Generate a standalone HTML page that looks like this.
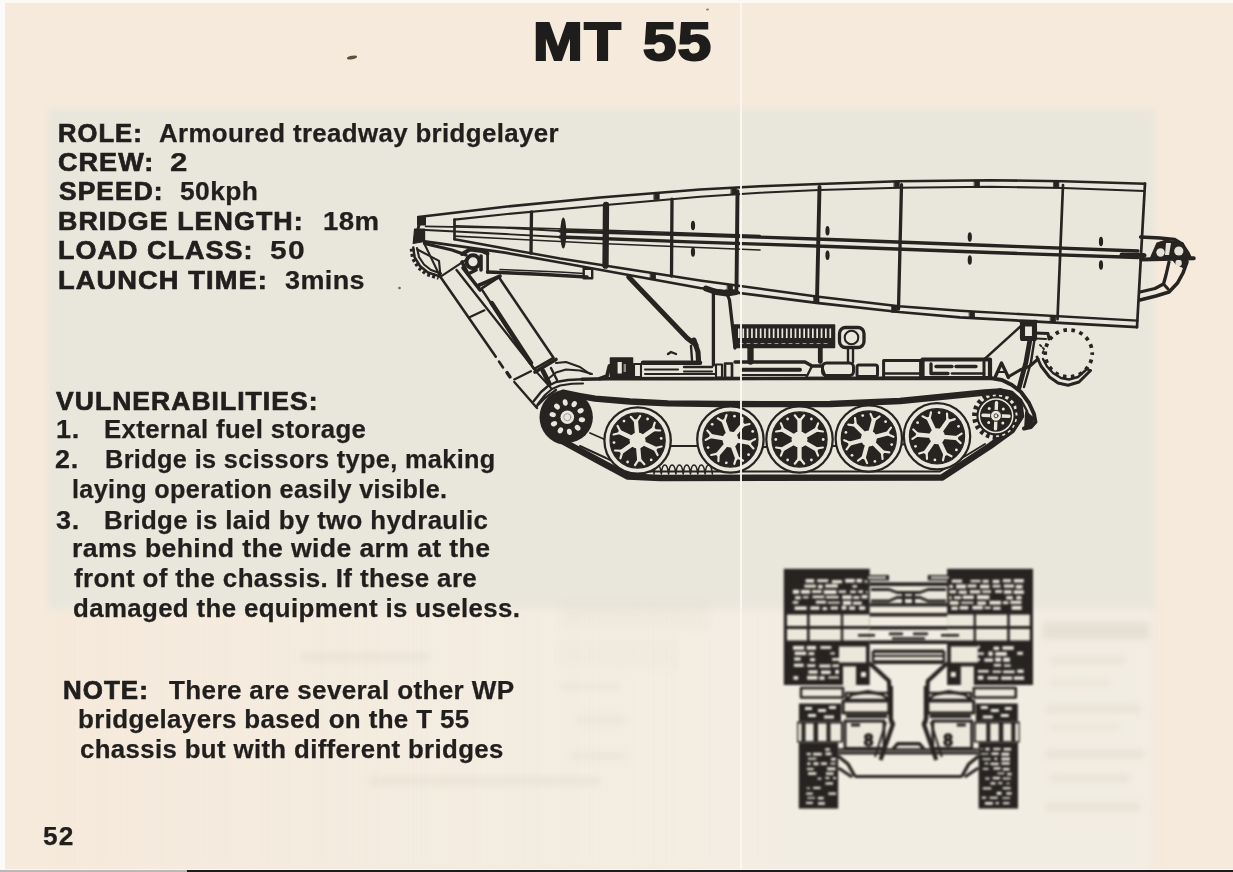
<!DOCTYPE html>
<html><head><meta charset="utf-8"><title>MT 55</title><style>
html,body{margin:0;padding:0}
body{width:1233px;height:872px;overflow:hidden;position:relative;background:#f6eadc;font-family:"Liberation Sans",sans-serif;color:#211f1e}
.t{-webkit-text-stroke:0.25px #262321;position:absolute;transform-origin:0 0;white-space:pre;font-size:25px;line-height:30px;height:30px;font-weight:700}
.t.b{-webkit-text-stroke:0.7px #211f1e}
#gray{position:absolute;left:48px;top:109px;width:1107px;height:500px;background:#e9e6dc;filter:blur(3px)}
#title{position:absolute;left:0;top:0;font-size:53px;font-weight:700;line-height:60px;white-space:pre;-webkit-text-stroke:2.2px #1f1d1c;color:#1f1d1c;transform-origin:0 0}
svg{position:absolute;left:0;top:0}
#txt{position:absolute;left:0;top:0;width:1233px;height:872px;filter:blur(0.4px)}
</style></head>
<body>
<div style="position:absolute;left:48px;top:606px;width:1105px;height:266px;background:linear-gradient(to right,rgba(242,237,227,0) 0,rgba(242,237,227,.55) 30%,rgba(242,237,227,.9) 65%,rgba(242,237,227,.9) 100%);filter:blur(4px)"></div>
<div id="gray"></div>
<div style="position:absolute;left:1042px;top:622px;width:108px;height:17px;background:#ddd6c8;filter:blur(3px);opacity:0.55"></div><div style="position:absolute;left:1050px;top:657px;width:75px;height:7px;background:#ddd6c8;filter:blur(3px);opacity:0.45"></div><div style="position:absolute;left:1050px;top:680px;width:60px;height:6px;background:#ddd6c8;filter:blur(3px);opacity:0.4"></div><div style="position:absolute;left:1045px;top:705px;width:95px;height:8px;background:#ddd6c8;filter:blur(3px);opacity:0.45"></div><div style="position:absolute;left:1050px;top:724px;width:70px;height:6px;background:#ddd6c8;filter:blur(3px);opacity:0.4"></div><div style="position:absolute;left:1045px;top:750px;width:100px;height:8px;background:#ddd6c8;filter:blur(3px);opacity:0.45"></div><div style="position:absolute;left:1050px;top:774px;width:80px;height:8px;background:#ddd6c8;filter:blur(3px);opacity:0.4"></div><div style="position:absolute;left:1045px;top:803px;width:95px;height:8px;background:#ddd6c8;filter:blur(3px);opacity:0.45"></div><div style="position:absolute;left:300px;top:653px;width:130px;height:8px;background:#ddd6c8;filter:blur(3px);opacity:0.35"></div><div style="position:absolute;left:560px;top:683px;width:60px;height:7px;background:#ddd6c8;filter:blur(3px);opacity:0.3"></div><div style="position:absolute;left:575px;top:716px;width:50px;height:8px;background:#ddd6c8;filter:blur(3px);opacity:0.3"></div><div style="position:absolute;left:570px;top:752px;width:55px;height:8px;background:#ddd6c8;filter:blur(3px);opacity:0.3"></div><div style="position:absolute;left:370px;top:777px;width:230px;height:9px;background:#ddd6c8;filter:blur(3px);opacity:0.35"></div><div style="position:absolute;left:560px;top:600px;width:150px;height:30px;background:#ddd6c8;filter:blur(3px);opacity:0.14"></div><div style="position:absolute;left:560px;top:640px;width:120px;height:30px;background:#ddd6c8;filter:blur(3px);opacity:0.1"></div>
<div style="position:absolute;left:0;top:0;width:5px;height:872px;background:#fdfbfa"></div>
<div style="position:absolute;left:0;top:0;width:1233px;height:3px;background:#fdfaf6"></div>
<div style="position:absolute;left:0;top:868.6px;width:1233px;height:1.6px;background:#fbf6ee"></div>
<div style="position:absolute;left:0;top:870px;width:1233px;height:2px;background:#b9b8b6"></div>
<div style="position:absolute;left:187px;top:870px;width:1046px;height:2px;background:#1c1c1e"></div>
<svg width="1233" height="872" viewBox="0 0 1233 872" style="filter:blur(0.45px)" stroke-linecap="round" stroke-linejoin="round"><path d="M418.4,217.0 L505.0,206.7 L600.0,197.6 L700.0,189.5 L760.0,186.3 L819.0,184.0 L899.0,181.2 L990.0,180.2 L1063.0,181.2 L1145.0,183.7" fill="none" stroke="#262321" stroke-width="2.55" />
<path d="M454.5,219.6 L505.0,214.2 L600.0,205.5 L700.0,196.8 L760.0,192.8 L819.0,190.0 L899.0,187.7 L990.0,186.7 L1063.0,188.0 L1144.0,191.0" fill="none" stroke="#262321" stroke-width="2.10" />
<path d="M425.6,226.3 L505.0,227.9 L560.0,231.0" fill="none" stroke="#262321" stroke-width="1.80" />
<path d="M425.6,230.0 L505.0,234.0 L560.0,237.0" fill="none" stroke="#262321" stroke-width="1.80" />
<path d="M560.0,231.0 L690.0,234.8 L830.0,239.5 L990.0,245.5 L1138.0,251.0" fill="none" stroke="#262321" stroke-width="3.30" />
<path d="M560.0,237.0 L690.0,241.8 L830.0,246.5 L990.0,252.5 L1138.0,257.5" fill="none" stroke="#262321" stroke-width="3.30" />
<path d="M454.5,239.2 L505.0,248.5 L560.0,258.5 L700.0,280.5 L816.5,296.5 L899.0,306.3 L960.0,310.8 L1137.5,320.6" fill="none" stroke="#262321" stroke-width="2.40" />
<path d="M424.6,241.3 L505.0,252.6 L560.0,262.5 L700.0,288.0 L816.5,302.8 L899.0,312.0 L960.0,317.3 L1137.0,327.2" fill="none" stroke="#262321" stroke-width="2.70" />
<path d="M454.5,225.8 L600.0,230.0 L760.0,235.5" fill="none" stroke="#262321" stroke-width="1.65" />
<path d="M454.5,236.1 L600.0,243.5 L760.0,250.0" fill="none" stroke="#262321" stroke-width="1.65" />
<line x1="454.5" y1="219.6" x2="454.5" y2="239.2" stroke="#262321" stroke-width="2.70" />
<path d="M1145.0,183.7 L1141.0,255.0 L1137.0,327.2" fill="none" stroke="#262321" stroke-width="2.70" />
<line x1="531.5" y1="211.8" x2="531.0" y2="253.2" stroke="#262321" stroke-width="3.30" />
<line x1="606.0" y1="205.0" x2="605.5" y2="265.6" stroke="#262321" stroke-width="6.30" />
<line x1="672.0" y1="199.2" x2="671.5" y2="276.0" stroke="#262321" stroke-width="3.30" />
<line x1="737.5" y1="191.3" x2="736.5" y2="288.5" stroke="#262321" stroke-width="3.90" />
<line x1="819.5" y1="187.0" x2="817.0" y2="299.6" stroke="#262321" stroke-width="3.90" />
<line x1="901.5" y1="184.7" x2="898.5" y2="309.2" stroke="#262321" stroke-width="3.30" />
<line x1="1063.0" y1="185.0" x2="1057.5" y2="319.2" stroke="#262321" stroke-width="2.70" />
<rect x="654.2" y="193.0" width="5.0" height="6.5" rx="0" fill="#262321" stroke="#262321" stroke-width="0.75" />
<rect x="731.3" y="187.7" width="5.0" height="6.5" rx="0" fill="#262321" stroke="#262321" stroke-width="0.75" />
<rect x="894.3" y="181.3" width="5.0" height="6.5" rx="0" fill="#262321" stroke="#262321" stroke-width="0.75" />
<rect x="974.5" y="180.3" width="5.0" height="6.5" rx="0" fill="#262321" stroke="#262321" stroke-width="0.75" />
<rect x="1053.8" y="181.1" width="5.0" height="6.5" rx="0" fill="#262321" stroke="#262321" stroke-width="0.75" />
<rect x="650.5" y="273.1" width="5.0" height="6.5" rx="0" fill="#262321" stroke="#262321" stroke-width="0.75" />
<rect x="727.5" y="284.6" width="5.0" height="6.5" rx="0" fill="#262321" stroke="#262321" stroke-width="0.75" />
<rect x="814.0" y="296.5" width="5.0" height="6.5" rx="0" fill="#262321" stroke="#262321" stroke-width="0.75" />
<rect x="891.9" y="305.8" width="5.0" height="6.5" rx="0" fill="#262321" stroke="#262321" stroke-width="0.75" />
<rect x="969.5" y="311.5" width="5.0" height="6.5" rx="0" fill="#262321" stroke="#262321" stroke-width="0.75" />
<rect x="1050.5" y="315.9" width="5.0" height="6.5" rx="0" fill="#262321" stroke="#262321" stroke-width="0.75" />
<ellipse cx="693" cy="225.5" rx="2.1" ry="4.8" fill="#262321"/>
<ellipse cx="693" cy="252" rx="2.1" ry="4.8" fill="#262321"/>
<ellipse cx="827.5" cy="230.8" rx="2.1" ry="4.8" fill="#262321"/>
<ellipse cx="827.5" cy="255.2" rx="2.1" ry="4.8" fill="#262321"/>
<ellipse cx="969.8" cy="237" rx="2.1" ry="4.8" fill="#262321"/>
<ellipse cx="969.8" cy="260" rx="2.1" ry="4.8" fill="#262321"/>
<ellipse cx="1101" cy="241.5" rx="2.1" ry="4.8" fill="#262321"/>
<ellipse cx="1101" cy="265" rx="2.1" ry="4.8" fill="#262321"/>
<ellipse cx="563.3" cy="233" rx="3" ry="15.5" fill="#262321"/>
<path d="M417.6,216.7 L425.4,216.7 L425.4,225.0 L417.6,225.0 Z" fill="#262321" stroke="#262321" stroke-width="1.20" />
<path d="M414.6,229.0 L424.6,229.0 L424.6,241.5 L413.2,243.5 Z" fill="#262321" stroke="#262321" stroke-width="1.20" />
<line x1="419.0" y1="225.0" x2="418.0" y2="229.0" stroke="#262321" stroke-width="3.00" />
<path d="M1140.5,237.0 L1160.0,238.0 L1174.7,239.3 L1182.0,244.0 L1188.0,253.0 L1190.0,257.5" fill="none" stroke="#262321" stroke-width="3.30" />
<path d="M1141.0,259.5 L1193.8,258.3" fill="none" stroke="#262321" stroke-width="3.90" />
<path d="M1122.0,255.0 L1144.0,255.5" fill="none" stroke="#262321" stroke-width="5.10" />
<path d="M1150.0,259.0 L1157.0,243.0 L1166.0,240.0 L1183.0,243.0 L1189.0,258.0 L1184.0,268.0 L1176.0,264.0 L1172.0,259.0 Z" fill="#262321" stroke="#262321" stroke-width="1.20" />
<circle cx="1160.5" cy="252.5" r="4.2" fill="#e4e1d8"/><circle cx="1178.8" cy="251" r="4.6" fill="#e4e1d8"/><circle cx="1178.6" cy="263" r="3.2" fill="#e4e1d8"/><path d="M1166,243 L1171,243 L1169,255 L1165,255 Z" fill="#e4e1d8"/>
<path d="M1141.0,259.5 L1193.8,258.3" fill="none" stroke="#262321" stroke-width="2.40" />
<path d="M1187.0,262.0 L1183.0,273.0 L1177.5,283.0 L1169.0,292.0 L1156.0,296.0 L1140.0,300.0" fill="none" stroke="#262321" stroke-width="3.60" />
<path d="M1169.0,262.0 L1166.0,275.0 L1163.5,284.0 L1155.0,288.5 L1140.0,292.0" fill="none" stroke="#262321" stroke-width="3.30" />
<path d="M1163.5,284.0 L1168.0,289.0" fill="none" stroke="#262321" stroke-width="3.00" />
<path d="M412.1,248.6 L413.3,258.2 L418.8,267.2 L426.8,273.7 L438.8,277.5" fill="none" stroke="#262321" stroke-width="4.80" stroke-dasharray="3 2.2" stroke-linecap="butt"/>
<path d="M413.3,247.4 L414.5,257.0 L420.0,266.0 L428.0,272.5 L440.0,276.3" fill="none" stroke="#262321" stroke-width="2.40" />
<path d="M417.0,248.0 L419.0,257.0 L424.0,264.5 L431.0,270.0 L441.0,273.5" fill="none" stroke="#262321" stroke-width="2.10" />
<path d="M424.0,243.0 L440.0,276.3" fill="none" stroke="#262321" stroke-width="2.10" />
<path d="M424.5,243.5 L452.0,250.0 L466.0,255.0" fill="none" stroke="#262321" stroke-width="3.30" />
<path d="M417.4,249.5 L439.0,260.9 L440.5,276.4" fill="none" stroke="#262321" stroke-width="2.10" />
<path d="M441.0,276.4 L469.0,257.8" fill="none" stroke="#262321" stroke-width="2.10" />
<path d="M440.0,276.3 L495.8,356.7" fill="none" stroke="#262321" stroke-width="2.55" />
<path d="M499.0,361.5 L503.0,367.5" fill="none" stroke="#262321" stroke-width="2.55" />
<path d="M507.0,372.5 L510.0,377.0" fill="none" stroke="#262321" stroke-width="3.30" />
<path d="M514.3,382.0 L537.0,408.0" fill="none" stroke="#262321" stroke-width="2.40" />
<line x1="469.0" y1="317.5" x2="484.4" y2="310.3" stroke="#262321" stroke-width="2.25" />
<line x1="514.3" y1="379.4" x2="530.9" y2="371.2" stroke="#262321" stroke-width="2.25" />
<path d="M456.6,270.0 L537.0,372.2" fill="none" stroke="#262321" stroke-width="2.40" />
<path d="M463.0,268.0 L480.0,290.0" fill="none" stroke="#262321" stroke-width="3.60" />
<path d="M481.3,288.6 L498.9,277.3 L553.5,357.8 L534.0,369.0 Z" fill="none" stroke="#262321" stroke-width="2.55" />
<path d="M478.2,285.5 L499.9,276.3" fill="none" stroke="#262321" stroke-width="3.90" />
<path d="M491.7,303.0 L530.9,362.9" fill="none" stroke="#262321" stroke-width="4.50" />
<path d="M535.0,372.0 L556.0,359.5" fill="none" stroke="#262321" stroke-width="3.60" />
<path d="M543.0,371.0 L549.0,383.0" fill="none" stroke="#262321" stroke-width="4.80" />
<path d="M551.0,368.0 L557.0,380.0" fill="none" stroke="#262321" stroke-width="2.40" />
<circle cx="473.0" cy="261.8" r="6.5" fill="none" stroke="#262321" stroke-width="3.90" />
<path d="M462.0,254.0 L470.0,249.5 L482.0,251.0 L487.5,253.6" fill="none" stroke="#262321" stroke-width="3.90" />
<path d="M462.0,262.0 L468.0,274.0 L476.0,270.0" fill="none" stroke="#262321" stroke-width="3.60" />
<line x1="487.6" y1="252.7" x2="487.6" y2="272.5" stroke="#262321" stroke-width="2.70" />
<line x1="481.0" y1="256.0" x2="481.0" y2="270.0" stroke="#262321" stroke-width="3.60" />
<path d="M487.6,272.0 L540.0,274.2 L587.0,277.0" fill="none" stroke="#262321" stroke-width="3.60" />
<path d="M500.0,269.5 L560.0,272.0 L584.0,273.4" fill="none" stroke="#262321" stroke-width="1.50" />
<rect x="583.7" y="268.8" width="8.5" height="9.5" rx="0" fill="none" stroke="#262321" stroke-width="2.40" />
<path d="M628.7,277.0 L687.0,338.0 L696.0,345.0" fill="none" stroke="#262321" stroke-width="4.95" />
<path d="M694.0,340.0 L698.0,352.0 L698.5,360.0" fill="none" stroke="#262321" stroke-width="5.10" />
<path d="M691.0,346.0 L692.0,360.0" fill="none" stroke="#262321" stroke-width="2.40" />
<line x1="713.4" y1="292.0" x2="713.4" y2="365.0" stroke="#262321" stroke-width="3.30" />
<path d="M726.0,291.0 L729.5,300.0 L735.0,348.0" fill="none" stroke="#262321" stroke-width="3.30" />
<path d="M706.0,288.5 L716.0,292.0 L727.0,293.5 L736.0,292.0" fill="none" stroke="#262321" stroke-width="6.00" />
<path d="M563.0,392.7 L580.0,396.0 L595.0,398.6 L630.0,401.5 L668.0,403.4 L720.0,404.0 L775.0,404.1 L830.0,404.0 L900.0,401.0 L950.0,396.0 L985.0,392.5 L1000.0,391.5" fill="none" stroke="#262321" stroke-width="6.30" stroke-linejoin="round"/>
<path d="M563.0,393.1 L558.9,394.2 L555.0,396.0 L551.6,398.4 L548.5,401.5 L546.1,404.9 L544.3,408.8 L543.2,412.9 L542.8,417.2 L543.2,421.5 L544.3,425.6 L546.1,429.4 L548.5,432.9 L551.6,436.0 L555.0,438.4 L558.9,440.2 L563.0,441.3 L600.0,461.5 L628.0,476.5 L660.0,478.0 L942.0,477.5 L990.0,446.0 L1012.0,430.0 L1021.0,416.0 L1019.0,402.0 L1010.0,393.5 L1000.0,391.5" fill="none" stroke="#262321" stroke-width="6.60" stroke-linejoin="round"/>
<path d="M580.0,446.0 L606.0,458.0 L632.0,471.5 L940.0,471.5 L985.0,444.0" fill="none" stroke="#262321" stroke-width="1.95" />
<path d="M654,474 C655,462 660,462 661.3,474 C662.3,462 667.3,462 668.5999999999999,474 C669.5999999999999,462 674.5999999999999,462 675.8999999999999,474 C676.8999999999999,462 681.8999999999999,462 683.1999999999998,474 C684.1999999999998,462 689.1999999999998,462 690.4999999999998,474 C691.4999999999998,462 696.4999999999998,462 697.7999999999997,474 C698.7999999999997,462 703.7999999999997,462 705.0999999999997,474 C706.0999999999997,462 711.0999999999997,462 712.3999999999996,474" fill="none" stroke="#262321" stroke-width="1.6"/>
<line x1="590.0" y1="433.0" x2="606.0" y2="440.0" stroke="#262321" stroke-width="1.80" />
<line x1="670.0" y1="446.0" x2="700.0" y2="446.0" stroke="#262321" stroke-width="1.80" />
<line x1="760.0" y1="447.0" x2="770.0" y2="447.0" stroke="#262321" stroke-width="1.80" />
<line x1="830.0" y1="446.0" x2="838.0" y2="446.0" stroke="#262321" stroke-width="1.80" />
<line x1="898.0" y1="445.0" x2="906.0" y2="444.0" stroke="#262321" stroke-width="1.80" />
<circle cx="637.6" cy="440.5" r="33.2" fill="#e9e6dc" stroke="#262321" stroke-width="2.25" />
<circle cx="637.6" cy="440.5" r="27.6" fill="#262321" stroke="#262321" stroke-width="1.20" />
<line x1="637.6" y1="440.5" x2="656.8" y2="449.5" stroke="#e9e6dc" stroke-width="4.3" stroke-linecap="butt"/>
<line x1="654.1" y1="448.2" x2="661.6" y2="446.5" stroke="#e9e6dc" stroke-width="2.2"/>
<line x1="654.1" y1="448.2" x2="657.6" y2="455.0" stroke="#e9e6dc" stroke-width="2.2"/>
<line x1="637.6" y1="440.5" x2="639.4" y2="461.6" stroke="#e9e6dc" stroke-width="4.3" stroke-linecap="butt"/>
<line x1="639.2" y1="458.6" x2="644.4" y2="464.2" stroke="#e9e6dc" stroke-width="2.2"/>
<line x1="639.2" y1="458.6" x2="635.0" y2="465.1" stroke="#e9e6dc" stroke-width="2.2"/>
<line x1="637.6" y1="440.5" x2="620.2" y2="452.7" stroke="#e9e6dc" stroke-width="4.3" stroke-linecap="butt"/>
<line x1="622.7" y1="450.9" x2="620.4" y2="458.3" stroke="#e9e6dc" stroke-width="2.2"/>
<line x1="622.7" y1="450.9" x2="615.0" y2="450.5" stroke="#e9e6dc" stroke-width="2.2"/>
<line x1="637.6" y1="440.5" x2="618.4" y2="431.5" stroke="#e9e6dc" stroke-width="4.3" stroke-linecap="butt"/>
<line x1="621.1" y1="432.8" x2="613.6" y2="434.5" stroke="#e9e6dc" stroke-width="2.2"/>
<line x1="621.1" y1="432.8" x2="617.6" y2="426.0" stroke="#e9e6dc" stroke-width="2.2"/>
<line x1="637.6" y1="440.5" x2="635.8" y2="419.4" stroke="#e9e6dc" stroke-width="4.3" stroke-linecap="butt"/>
<line x1="636.0" y1="422.4" x2="630.8" y2="416.8" stroke="#e9e6dc" stroke-width="2.2"/>
<line x1="636.0" y1="422.4" x2="640.2" y2="415.9" stroke="#e9e6dc" stroke-width="2.2"/>
<line x1="637.6" y1="440.5" x2="655.0" y2="428.3" stroke="#e9e6dc" stroke-width="4.3" stroke-linecap="butt"/>
<line x1="652.5" y1="430.1" x2="654.8" y2="422.7" stroke="#e9e6dc" stroke-width="2.2"/>
<line x1="652.5" y1="430.1" x2="660.2" y2="430.5" stroke="#e9e6dc" stroke-width="2.2"/>
<circle cx="651.2" cy="459.9" r="1.4" fill="#e9e6dc"/>
<circle cx="627.6" cy="462.0" r="1.4" fill="#e9e6dc"/>
<circle cx="614.0" cy="442.6" r="1.4" fill="#e9e6dc"/>
<circle cx="624.0" cy="421.1" r="1.4" fill="#e9e6dc"/>
<circle cx="647.6" cy="419.0" r="1.4" fill="#e9e6dc"/>
<circle cx="661.2" cy="438.4" r="1.4" fill="#e9e6dc"/>
<circle cx="637.6" cy="440.5" r="8.0" fill="#e9e6dc"/>
<circle cx="730.4" cy="439.5" r="33.2" fill="#e9e6dc" stroke="#262321" stroke-width="2.25" />
<circle cx="730.4" cy="439.5" r="27.6" fill="#262321" stroke="#262321" stroke-width="1.20" />
<line x1="730.4" y1="439.5" x2="751.3" y2="443.2" stroke="#e9e6dc" stroke-width="4.3" stroke-linecap="butt"/>
<line x1="748.3" y1="442.7" x2="755.1" y2="439.1" stroke="#e9e6dc" stroke-width="2.2"/>
<line x1="748.3" y1="442.7" x2="753.5" y2="448.4" stroke="#e9e6dc" stroke-width="2.2"/>
<line x1="730.4" y1="439.5" x2="737.7" y2="459.4" stroke="#e9e6dc" stroke-width="4.3" stroke-linecap="butt"/>
<line x1="736.6" y1="456.6" x2="743.1" y2="460.7" stroke="#e9e6dc" stroke-width="2.2"/>
<line x1="736.6" y1="456.6" x2="734.3" y2="463.9" stroke="#e9e6dc" stroke-width="2.2"/>
<line x1="730.4" y1="439.5" x2="716.8" y2="455.7" stroke="#e9e6dc" stroke-width="4.3" stroke-linecap="butt"/>
<line x1="718.7" y1="453.4" x2="718.4" y2="461.1" stroke="#e9e6dc" stroke-width="2.2"/>
<line x1="718.7" y1="453.4" x2="711.2" y2="455.0" stroke="#e9e6dc" stroke-width="2.2"/>
<line x1="730.4" y1="439.5" x2="709.5" y2="435.8" stroke="#e9e6dc" stroke-width="4.3" stroke-linecap="butt"/>
<line x1="712.5" y1="436.3" x2="705.7" y2="439.9" stroke="#e9e6dc" stroke-width="2.2"/>
<line x1="712.5" y1="436.3" x2="707.3" y2="430.6" stroke="#e9e6dc" stroke-width="2.2"/>
<line x1="730.4" y1="439.5" x2="723.1" y2="419.6" stroke="#e9e6dc" stroke-width="4.3" stroke-linecap="butt"/>
<line x1="724.2" y1="422.4" x2="717.7" y2="418.3" stroke="#e9e6dc" stroke-width="2.2"/>
<line x1="724.2" y1="422.4" x2="726.5" y2="415.1" stroke="#e9e6dc" stroke-width="2.2"/>
<line x1="730.4" y1="439.5" x2="744.0" y2="423.3" stroke="#e9e6dc" stroke-width="4.3" stroke-linecap="butt"/>
<line x1="742.1" y1="425.6" x2="742.4" y2="417.9" stroke="#e9e6dc" stroke-width="2.2"/>
<line x1="742.1" y1="425.6" x2="749.6" y2="424.0" stroke="#e9e6dc" stroke-width="2.2"/>
<circle cx="748.6" cy="454.7" r="1.4" fill="#e9e6dc"/>
<circle cx="726.3" cy="462.8" r="1.4" fill="#e9e6dc"/>
<circle cx="708.1" cy="447.6" r="1.4" fill="#e9e6dc"/>
<circle cx="712.2" cy="424.3" r="1.4" fill="#e9e6dc"/>
<circle cx="734.5" cy="416.2" r="1.4" fill="#e9e6dc"/>
<circle cx="752.7" cy="431.4" r="1.4" fill="#e9e6dc"/>
<circle cx="730.4" cy="439.5" r="8.0" fill="#e9e6dc"/>
<circle cx="799.5" cy="439.5" r="33.2" fill="#e9e6dc" stroke="#262321" stroke-width="2.25" />
<circle cx="799.5" cy="439.5" r="27.6" fill="#262321" stroke="#262321" stroke-width="1.20" />
<line x1="799.5" y1="439.5" x2="799.5" y2="418.3" stroke="#e9e6dc" stroke-width="4.3" stroke-linecap="butt"/>
<line x1="799.5" y1="421.3" x2="794.8" y2="415.3" stroke="#e9e6dc" stroke-width="2.2"/>
<line x1="799.5" y1="421.3" x2="804.2" y2="415.3" stroke="#e9e6dc" stroke-width="2.2"/>
<line x1="799.5" y1="439.5" x2="817.9" y2="428.9" stroke="#e9e6dc" stroke-width="4.3" stroke-linecap="butt"/>
<line x1="815.3" y1="430.4" x2="818.1" y2="423.3" stroke="#e9e6dc" stroke-width="2.2"/>
<line x1="815.3" y1="430.4" x2="822.9" y2="431.5" stroke="#e9e6dc" stroke-width="2.2"/>
<line x1="799.5" y1="439.5" x2="817.9" y2="450.1" stroke="#e9e6dc" stroke-width="4.3" stroke-linecap="butt"/>
<line x1="815.3" y1="448.6" x2="822.9" y2="447.5" stroke="#e9e6dc" stroke-width="2.2"/>
<line x1="815.3" y1="448.6" x2="818.1" y2="455.7" stroke="#e9e6dc" stroke-width="2.2"/>
<line x1="799.5" y1="439.5" x2="799.5" y2="460.7" stroke="#e9e6dc" stroke-width="4.3" stroke-linecap="butt"/>
<line x1="799.5" y1="457.7" x2="804.2" y2="463.7" stroke="#e9e6dc" stroke-width="2.2"/>
<line x1="799.5" y1="457.7" x2="794.8" y2="463.7" stroke="#e9e6dc" stroke-width="2.2"/>
<line x1="799.5" y1="439.5" x2="781.1" y2="450.1" stroke="#e9e6dc" stroke-width="4.3" stroke-linecap="butt"/>
<line x1="783.7" y1="448.6" x2="780.9" y2="455.7" stroke="#e9e6dc" stroke-width="2.2"/>
<line x1="783.7" y1="448.6" x2="776.1" y2="447.5" stroke="#e9e6dc" stroke-width="2.2"/>
<line x1="799.5" y1="439.5" x2="781.1" y2="428.9" stroke="#e9e6dc" stroke-width="4.3" stroke-linecap="butt"/>
<line x1="783.7" y1="430.4" x2="776.1" y2="431.5" stroke="#e9e6dc" stroke-width="2.2"/>
<line x1="783.7" y1="430.4" x2="780.9" y2="423.3" stroke="#e9e6dc" stroke-width="2.2"/>
<circle cx="811.4" cy="419.0" r="1.4" fill="#e9e6dc"/>
<circle cx="823.2" cy="439.5" r="1.4" fill="#e9e6dc"/>
<circle cx="811.4" cy="460.0" r="1.4" fill="#e9e6dc"/>
<circle cx="787.6" cy="460.0" r="1.4" fill="#e9e6dc"/>
<circle cx="775.8" cy="439.5" r="1.4" fill="#e9e6dc"/>
<circle cx="787.6" cy="419.0" r="1.4" fill="#e9e6dc"/>
<circle cx="799.5" cy="439.5" r="8.0" fill="#e9e6dc"/>
<circle cx="868.8" cy="438.5" r="33.2" fill="#e9e6dc" stroke="#262321" stroke-width="2.25" />
<circle cx="868.8" cy="438.5" r="27.6" fill="#262321" stroke="#262321" stroke-width="1.20" />
<line x1="868.8" y1="438.5" x2="889.3" y2="433.0" stroke="#e9e6dc" stroke-width="4.3" stroke-linecap="butt"/>
<line x1="886.4" y1="433.8" x2="891.0" y2="427.7" stroke="#e9e6dc" stroke-width="2.2"/>
<line x1="886.4" y1="433.8" x2="893.4" y2="436.8" stroke="#e9e6dc" stroke-width="2.2"/>
<line x1="868.8" y1="438.5" x2="883.8" y2="453.5" stroke="#e9e6dc" stroke-width="4.3" stroke-linecap="butt"/>
<line x1="881.7" y1="451.4" x2="889.3" y2="452.3" stroke="#e9e6dc" stroke-width="2.2"/>
<line x1="881.7" y1="451.4" x2="882.6" y2="459.0" stroke="#e9e6dc" stroke-width="2.2"/>
<line x1="868.8" y1="438.5" x2="863.3" y2="459.0" stroke="#e9e6dc" stroke-width="4.3" stroke-linecap="butt"/>
<line x1="864.1" y1="456.1" x2="867.1" y2="463.1" stroke="#e9e6dc" stroke-width="2.2"/>
<line x1="864.1" y1="456.1" x2="858.0" y2="460.7" stroke="#e9e6dc" stroke-width="2.2"/>
<line x1="868.8" y1="438.5" x2="848.3" y2="444.0" stroke="#e9e6dc" stroke-width="4.3" stroke-linecap="butt"/>
<line x1="851.2" y1="443.2" x2="846.6" y2="449.3" stroke="#e9e6dc" stroke-width="2.2"/>
<line x1="851.2" y1="443.2" x2="844.2" y2="440.2" stroke="#e9e6dc" stroke-width="2.2"/>
<line x1="868.8" y1="438.5" x2="853.8" y2="423.5" stroke="#e9e6dc" stroke-width="4.3" stroke-linecap="butt"/>
<line x1="855.9" y1="425.6" x2="848.3" y2="424.7" stroke="#e9e6dc" stroke-width="2.2"/>
<line x1="855.9" y1="425.6" x2="855.0" y2="418.0" stroke="#e9e6dc" stroke-width="2.2"/>
<line x1="868.8" y1="438.5" x2="874.3" y2="418.0" stroke="#e9e6dc" stroke-width="4.3" stroke-linecap="butt"/>
<line x1="873.5" y1="420.9" x2="870.5" y2="413.9" stroke="#e9e6dc" stroke-width="2.2"/>
<line x1="873.5" y1="420.9" x2="879.6" y2="416.3" stroke="#e9e6dc" stroke-width="2.2"/>
<circle cx="891.7" cy="444.6" r="1.4" fill="#e9e6dc"/>
<circle cx="874.9" cy="461.4" r="1.4" fill="#e9e6dc"/>
<circle cx="852.0" cy="455.3" r="1.4" fill="#e9e6dc"/>
<circle cx="845.9" cy="432.4" r="1.4" fill="#e9e6dc"/>
<circle cx="862.7" cy="415.6" r="1.4" fill="#e9e6dc"/>
<circle cx="885.6" cy="421.7" r="1.4" fill="#e9e6dc"/>
<circle cx="868.8" cy="438.5" r="8.0" fill="#e9e6dc"/>
<circle cx="937.0" cy="436.3" r="33.2" fill="#e9e6dc" stroke="#262321" stroke-width="2.25" />
<circle cx="937.0" cy="436.3" r="27.6" fill="#262321" stroke="#262321" stroke-width="1.20" />
<line x1="937.0" y1="436.3" x2="958.1" y2="438.1" stroke="#e9e6dc" stroke-width="4.3" stroke-linecap="butt"/>
<line x1="955.1" y1="437.9" x2="961.6" y2="433.7" stroke="#e9e6dc" stroke-width="2.2"/>
<line x1="955.1" y1="437.9" x2="960.7" y2="443.1" stroke="#e9e6dc" stroke-width="2.2"/>
<line x1="937.0" y1="436.3" x2="946.0" y2="455.5" stroke="#e9e6dc" stroke-width="4.3" stroke-linecap="butt"/>
<line x1="944.7" y1="452.8" x2="951.5" y2="456.3" stroke="#e9e6dc" stroke-width="2.2"/>
<line x1="944.7" y1="452.8" x2="943.0" y2="460.3" stroke="#e9e6dc" stroke-width="2.2"/>
<line x1="937.0" y1="436.3" x2="924.8" y2="453.7" stroke="#e9e6dc" stroke-width="4.3" stroke-linecap="butt"/>
<line x1="926.6" y1="451.2" x2="927.0" y2="458.9" stroke="#e9e6dc" stroke-width="2.2"/>
<line x1="926.6" y1="451.2" x2="919.2" y2="453.5" stroke="#e9e6dc" stroke-width="2.2"/>
<line x1="937.0" y1="436.3" x2="915.9" y2="434.5" stroke="#e9e6dc" stroke-width="4.3" stroke-linecap="butt"/>
<line x1="918.9" y1="434.7" x2="912.4" y2="438.9" stroke="#e9e6dc" stroke-width="2.2"/>
<line x1="918.9" y1="434.7" x2="913.3" y2="429.5" stroke="#e9e6dc" stroke-width="2.2"/>
<line x1="937.0" y1="436.3" x2="928.0" y2="417.1" stroke="#e9e6dc" stroke-width="4.3" stroke-linecap="butt"/>
<line x1="929.3" y1="419.8" x2="922.5" y2="416.3" stroke="#e9e6dc" stroke-width="2.2"/>
<line x1="929.3" y1="419.8" x2="931.0" y2="412.3" stroke="#e9e6dc" stroke-width="2.2"/>
<line x1="937.0" y1="436.3" x2="949.2" y2="418.9" stroke="#e9e6dc" stroke-width="4.3" stroke-linecap="butt"/>
<line x1="947.4" y1="421.4" x2="947.0" y2="413.7" stroke="#e9e6dc" stroke-width="2.2"/>
<line x1="947.4" y1="421.4" x2="954.8" y2="419.1" stroke="#e9e6dc" stroke-width="2.2"/>
<circle cx="956.4" cy="449.9" r="1.4" fill="#e9e6dc"/>
<circle cx="934.9" cy="459.9" r="1.4" fill="#e9e6dc"/>
<circle cx="915.5" cy="446.3" r="1.4" fill="#e9e6dc"/>
<circle cx="917.6" cy="422.7" r="1.4" fill="#e9e6dc"/>
<circle cx="939.1" cy="412.7" r="1.4" fill="#e9e6dc"/>
<circle cx="958.5" cy="426.3" r="1.4" fill="#e9e6dc"/>
<circle cx="937.0" cy="436.3" r="8.0" fill="#e9e6dc"/>
<circle cx="567.3" cy="417.2" r="25.6" fill="#262321"/>
<ellipse cx="581.9" cy="419.8" rx="2.5" ry="3.2" transform="rotate(100 581.9 419.8)" fill="#e9e6dc"/>
<ellipse cx="577.6" cy="427.8" rx="2.5" ry="3.2" transform="rotate(136 577.6 427.8)" fill="#e9e6dc"/>
<ellipse cx="569.4" cy="431.9" rx="2.5" ry="3.2" transform="rotate(172 569.4 431.9)" fill="#e9e6dc"/>
<ellipse cx="560.4" cy="430.3" rx="2.5" ry="3.2" transform="rotate(208 560.4 430.3)" fill="#e9e6dc"/>
<ellipse cx="554.0" cy="423.7" rx="2.5" ry="3.2" transform="rotate(244 554.0 423.7)" fill="#e9e6dc"/>
<ellipse cx="552.7" cy="414.6" rx="2.5" ry="3.2" transform="rotate(280 552.7 414.6)" fill="#e9e6dc"/>
<ellipse cx="557.0" cy="406.6" rx="2.5" ry="3.2" transform="rotate(316 557.0 406.6)" fill="#e9e6dc"/>
<ellipse cx="565.2" cy="402.5" rx="2.5" ry="3.2" transform="rotate(352 565.2 402.5)" fill="#e9e6dc"/>
<ellipse cx="574.2" cy="404.1" rx="2.5" ry="3.2" transform="rotate(388 574.2 404.1)" fill="#e9e6dc"/>
<ellipse cx="580.6" cy="410.7" rx="2.5" ry="3.2" transform="rotate(424 580.6 410.7)" fill="#e9e6dc"/>
<circle cx="567.3" cy="417.2" r="6.8" fill="#e9e6dc"/>
<circle cx="567.3" cy="417.2" r="3.6" fill="none" stroke="#8d8a84" stroke-width="0.8"/>
<circle cx="996.0" cy="415.8" r="21.2" fill="#e9e6dc" stroke="#262321" stroke-width="5.40" stroke-dasharray="3.4 3.2" stroke-linecap="butt"/>
<circle cx="996.0" cy="415.8" r="18.6" fill="#e9e6dc" stroke="#262321" stroke-width="2.10" />
<circle cx="996.0" cy="415.8" r="15.2" fill="#262321" stroke="#262321" stroke-width="1.50" />
<line x1="996.0" y1="415.8" x2="1009.0" y2="416.3" stroke="#e9e6dc" stroke-width="3.4"/>
<line x1="996.0" y1="415.8" x2="995.5" y2="428.8" stroke="#e9e6dc" stroke-width="3.4"/>
<line x1="996.0" y1="415.8" x2="983.0" y2="415.3" stroke="#e9e6dc" stroke-width="3.4"/>
<line x1="996.0" y1="415.8" x2="996.5" y2="402.8" stroke="#e9e6dc" stroke-width="3.4"/>
<circle cx="1002.8" cy="423.1" r="1.5" fill="#e9e6dc"/>
<circle cx="988.7" cy="422.6" r="1.5" fill="#e9e6dc"/>
<circle cx="989.2" cy="408.5" r="1.5" fill="#e9e6dc"/>
<circle cx="1003.3" cy="409.0" r="1.5" fill="#e9e6dc"/>
<circle cx="996.0" cy="415.8" r="5.5" fill="#e9e6dc" stroke="#262321" stroke-width="1"/>
<circle cx="996.0" cy="415.8" r="2" fill="none" stroke="#262321" stroke-width="0.8"/>
<path d="M582.0,379.2 L609.0,378.8 L700.0,378.6 L840.0,378.4 L992.0,378.4" fill="none" stroke="#262321" stroke-width="3.60" />
<path d="M533.6,401.3 L541.0,392.0 L548.0,386.0 L556.0,382.0 L568.0,380.0 L582.5,379.3" fill="none" stroke="#262321" stroke-width="2.40" />
<path d="M537.5,404.5 L545.0,395.0 L552.0,389.0 L560.0,385.5 L572.0,383.8 L583.0,383.5" fill="none" stroke="#262321" stroke-width="2.10" />
<path d="M548.0,379.0 L556.0,372.5 L566.0,369.5 L580.0,370.5 L592.0,374.0" fill="none" stroke="#262321" stroke-width="2.10" />
<rect x="610.5" y="358.0" width="22.0" height="19.5" rx="0" fill="#262321" stroke="#262321" stroke-width="1.50" />
<rect x="617.6" y="362.0" width="4.2" height="11.5" rx="0" fill="#e9e6dc" stroke="#262321" stroke-width="0.00" />
<rect x="623.6" y="364.0" width="2.4" height="8.0" rx="0" fill="#8f8c85" stroke="#262321" stroke-width="0.00" />
<path d="M600.0,378.5 L607.0,376.0 L609.5,366.0" fill="none" stroke="#262321" stroke-width="3.90" />
<rect x="634.0" y="364.0" width="7.0" height="13.0" rx="0" fill="none" stroke="#262321" stroke-width="2.10" />
<path d="M643.0,362.8 L700.0,362.8" fill="none" stroke="#262321" stroke-width="4.50" />
<path d="M645.0,369.5 L678.0,369.5" fill="none" stroke="#262321" stroke-width="2.10" />
<path d="M684.0,367.0 L712.0,367.0" fill="none" stroke="#262321" stroke-width="2.40" />
<path d="M684.0,371.5 L712.0,371.5" fill="none" stroke="#262321" stroke-width="2.10" />
<path d="M645.0,374.0 L716.0,374.0" fill="none" stroke="#262321" stroke-width="2.10" />
<rect x="716.0" y="364.5" width="6.0" height="13.0" rx="0" fill="none" stroke="#262321" stroke-width="2.10" />
<rect x="725.0" y="363.5" width="7.0" height="14.5" rx="0" fill="none" stroke="#262321" stroke-width="2.70" />
<path d="M668.0,354.0 L671.0,352.0 L676.0,354.0" fill="none" stroke="#262321" stroke-width="2.40" />
<path d="M735.0,362.0 L805.0,362.0 L812.0,366.0 L822.0,366.0" fill="none" stroke="#262321" stroke-width="3.30" />
<path d="M742.0,369.8 L800.0,369.8" fill="none" stroke="#262321" stroke-width="3.90" />
<path d="M742.0,375.0 L806.0,375.0" fill="none" stroke="#262321" stroke-width="1.80" />
<path d="M806.0,378.0 L812.0,366.0" fill="none" stroke="#262321" stroke-width="2.40" />
<path d="M826.0,378.0 L822.0,366.0" fill="none" stroke="#262321" stroke-width="2.10" />
<rect x="734.0" y="325.0" width="100.5" height="22.5" rx="0" fill="#262321" stroke="#262321" stroke-width="1.50" />
<rect x="738.0" y="328.5" width="1.7" height="9.5" fill="#e9e6dc"/>
<rect x="742.4" y="328.5" width="1.7" height="9.5" fill="#e9e6dc"/>
<rect x="746.7" y="328.5" width="1.7" height="9.5" fill="#e9e6dc"/>
<rect x="751.1" y="328.5" width="1.7" height="9.5" fill="#e9e6dc"/>
<rect x="755.4" y="328.5" width="1.7" height="9.5" fill="#e9e6dc"/>
<rect x="759.8" y="328.5" width="1.7" height="9.5" fill="#e9e6dc"/>
<rect x="764.1" y="328.5" width="1.7" height="9.5" fill="#e9e6dc"/>
<rect x="768.5" y="328.5" width="1.7" height="9.5" fill="#e9e6dc"/>
<rect x="772.8" y="328.5" width="1.7" height="9.5" fill="#e9e6dc"/>
<rect x="777.2" y="328.5" width="1.7" height="9.5" fill="#e9e6dc"/>
<rect x="781.5" y="328.5" width="1.7" height="9.5" fill="#e9e6dc"/>
<rect x="785.9" y="328.5" width="1.7" height="9.5" fill="#e9e6dc"/>
<rect x="790.2" y="328.5" width="1.7" height="9.5" fill="#e9e6dc"/>
<rect x="794.6" y="328.5" width="1.7" height="9.5" fill="#e9e6dc"/>
<rect x="798.9" y="328.5" width="1.7" height="9.5" fill="#e9e6dc"/>
<rect x="803.3" y="328.5" width="1.7" height="9.5" fill="#e9e6dc"/>
<rect x="807.6" y="328.5" width="1.7" height="9.5" fill="#e9e6dc"/>
<rect x="812.0" y="328.5" width="1.7" height="9.5" fill="#e9e6dc"/>
<rect x="816.3" y="328.5" width="1.7" height="9.5" fill="#e9e6dc"/>
<rect x="820.7" y="328.5" width="1.7" height="9.5" fill="#e9e6dc"/>
<rect x="825.0" y="328.5" width="1.7" height="9.5" fill="#e9e6dc"/>
<rect x="829.4" y="328.5" width="1.7" height="9.5" fill="#e9e6dc"/>
<path d="M740,343.5 L828,343.5" stroke="#e9e6dc" stroke-width="1.2" stroke-dasharray="3 4" opacity="0.6"/>
<line x1="750.5" y1="347.0" x2="750.5" y2="361.5" stroke="#262321" stroke-width="6.30" />
<line x1="820.3" y1="347.0" x2="820.3" y2="361.5" stroke="#262321" stroke-width="4.80" />
<rect x="839.5" y="327.5" width="24.5" height="20.0" rx="6" fill="none" stroke="#262321" stroke-width="3.30" />
<circle cx="851.5" cy="337.5" r="6.8" fill="none" stroke="#262321" stroke-width="2.10" />
<line x1="848.0" y1="347.5" x2="848.0" y2="362.0" stroke="#262321" stroke-width="2.40" />
<line x1="853.0" y1="347.5" x2="853.0" y2="362.0" stroke="#262321" stroke-width="2.40" />
<rect x="822.5" y="363.0" width="31.0" height="12.5" rx="4" fill="none" stroke="#262321" stroke-width="3.00" />
<rect x="857.0" y="365.0" width="20.5" height="11.5" rx="2" fill="none" stroke="#262321" stroke-width="3.00" />
<rect x="883.6" y="360.5" width="37.0" height="17.5" rx="0" fill="none" stroke="#262321" stroke-width="3.00" />
<line x1="884.0" y1="373.5" x2="920.0" y2="373.5" stroke="#262321" stroke-width="2.40" />
<rect x="922.5" y="359.5" width="67.5" height="18.5" rx="0" fill="none" stroke="#262321" stroke-width="4.20" />
<path d="M931.0,364.0 L931.0,373.5 L948.0,373.5" fill="none" stroke="#262321" stroke-width="3.30" />
<path d="M936.0,366.5 L952.0,366.5" fill="none" stroke="#262321" stroke-width="3.30" />
<path d="M956.0,366.5 L976.0,366.5" fill="none" stroke="#262321" stroke-width="3.30" />
<path d="M952.0,373.5 L984.0,373.5" fill="none" stroke="#262321" stroke-width="2.70" />
<line x1="984.0" y1="362.0" x2="984.0" y2="376.0" stroke="#262321" stroke-width="3.00" />
<path d="M995.0,377.5 L1001.5,363.0 L1008.5,377.5" fill="none" stroke="#262321" stroke-width="3.30" />
<line x1="998.0" y1="372.0" x2="1006.0" y2="372.0" stroke="#262321" stroke-width="2.10" />
<line x1="983.5" y1="360.0" x2="1022.0" y2="325.0" stroke="#262321" stroke-width="2.40" />
<rect x="1022.5" y="324.0" width="12.0" height="14.5" rx="0" fill="none" stroke="#262321" stroke-width="5.10" />
<line x1="1021.0" y1="321.5" x2="1036.0" y2="321.5" stroke="#262321" stroke-width="3.60" />
<path d="M1035.0,333.0 L1048.0,333.5 L1049.0,339.0" fill="none" stroke="#262321" stroke-width="3.00" />
<path d="M1036.0,338.5 L1046.0,339.0" fill="none" stroke="#262321" stroke-width="2.10" />
<path d="M1030.0,339.5 L1026.0,362.0 L1019.0,388.0" fill="none" stroke="#262321" stroke-width="4.80" />
<path d="M1034.5,339.5 L1031.0,362.0 L1024.0,387.0" fill="none" stroke="#262321" stroke-width="2.40" />
<path d="M1008.0,377.0 L1020.0,370.0 L1030.0,366.0 L1038.0,359.0" fill="none" stroke="#262321" stroke-width="3.00" />
<path d="M1037.0,357.0 L1041.0,366.0 L1049.5,377.0 L1058.0,383.0 L1068.0,385.3 L1079.0,382.0 L1090.5,370.5" fill="none" stroke="#262321" stroke-width="3.00" />
<path d="M1043.0,359.0 L1047.0,366.5 L1053.0,373.0 L1061.0,378.0 L1069.0,379.5 L1078.0,377.0 L1087.0,369.0" fill="none" stroke="#262321" stroke-width="2.40" />
<path d="M1087.0,369.0 L1090.5,370.5" fill="none" stroke="#262321" stroke-width="2.10" />
<circle cx="1068.7" cy="353.4" r="23.5" fill="none" stroke="#262321" stroke-width="3.75" stroke-dasharray="3.6 4.6" stroke-dashoffset="2" stroke-linecap="butt"/>
<path d="M1040.0,345.0 L1044.0,349.0 L1042.0,355.0" fill="none" stroke="#262321" stroke-width="1.80" stroke-dasharray="2 2"/>
<path d="M992.0,378.4 L1002.0,380.0 L1012.0,385.0 L1021.0,392.0 L1029.0,403.0 L1034.0,414.0 L1035.5,422.0 L1031.0,427.0 L1024.0,428.5" fill="none" stroke="#262321" stroke-width="3.90" />
<path d="M1012.0,392.0 L1021.0,400.0 L1027.0,411.0 L1029.0,421.0" fill="none" stroke="#262321" stroke-width="2.40" />
<path d="M1026.0,412.0 L1033.0,418.0 L1032.0,426.0 L1025.0,428.0 Z" fill="#262321" stroke="#262321" stroke-width="1.80" />
<path d="M537.0,406.0 L545.0,398.0 L556.0,390.0" fill="none" stroke="#262321" stroke-width="2.40" />
<path d="M537.0,372.5 L551.0,388.0" fill="none" stroke="#262321" stroke-width="2.10" />
<path d="M556.0,363.0 L566.0,362.0 L580.0,367.0 L590.0,374.0" fill="none" stroke="#262321" stroke-width="2.10" /></svg>
<svg width="1233" height="872" viewBox="0 0 1233 872" style="filter:blur(0.8px)" stroke-linejoin="round"><rect x="783.8" y="568.8" width="85.9" height="116.2" fill="#262321"/>
<rect x="805.6" y="579.1" width="8.6" height="3.5" fill="#ece7db"/>
<rect x="817.2" y="579.3" width="11.1" height="2.8" fill="#ece7db"/>
<rect x="831.9" y="580.1" width="10.2" height="3.2" fill="#ece7db"/>
<rect x="845.2" y="578.9" width="9.5" height="3.7" fill="#ece7db"/>
<rect x="856.4" y="578.9" width="5.7" height="3.6" fill="#ece7db"/>
<rect x="864.7" y="579.7" width="2.8" height="2.9" fill="#ece7db"/>
<rect x="804.4" y="584.7" width="11.6" height="2.9" fill="#ece7db"/>
<rect x="818.1" y="584.8" width="4.6" height="3.7" fill="#ece7db"/>
<rect x="825.2" y="584.3" width="12.6" height="3.3" fill="#ece7db"/>
<rect x="852.4" y="585.2" width="4.7" height="2.4" fill="#ece7db"/>
<rect x="792.9" y="589.8" width="6.2" height="4.0" fill="#ece7db"/>
<rect x="801.0" y="589.9" width="9.0" height="3.8" fill="#ece7db"/>
<rect x="811.9" y="590.2" width="9.8" height="2.8" fill="#ece7db"/>
<rect x="823.8" y="590.1" width="12.7" height="3.9" fill="#ece7db"/>
<rect x="838.6" y="590.5" width="7.5" height="2.4" fill="#ece7db"/>
<rect x="850.1" y="590.6" width="5.9" height="2.5" fill="#ece7db"/>
<rect x="858.3" y="590.4" width="4.7" height="2.6" fill="#ece7db"/>
<rect x="866.0" y="590.9" width="1.5" height="2.5" fill="#ece7db"/>
<rect x="795.1" y="596.2" width="5.6" height="3.1" fill="#ece7db"/>
<rect x="802.9" y="596.2" width="5.7" height="2.1" fill="#ece7db"/>
<rect x="812.5" y="595.6" width="11.9" height="2.6" fill="#ece7db"/>
<rect x="826.0" y="595.9" width="12.7" height="2.5" fill="#ece7db"/>
<rect x="842.2" y="595.3" width="9.4" height="3.8" fill="#ece7db"/>
<rect x="853.3" y="596.1" width="6.1" height="2.8" fill="#ece7db"/>
<rect x="861.5" y="595.1" width="6.0" height="3.4" fill="#ece7db"/>
<rect x="792.7" y="601.2" width="5.6" height="2.5" fill="#ece7db"/>
<rect x="815.8" y="600.7" width="10.2" height="2.9" fill="#ece7db"/>
<rect x="827.6" y="601.7" width="12.2" height="1.9" fill="#ece7db"/>
<rect x="842.9" y="600.9" width="8.3" height="4.0" fill="#ece7db"/>
<rect x="852.9" y="601.6" width="8.9" height="3.0" fill="#ece7db"/>
<rect x="794.6" y="606.4" width="12.1" height="3.6" fill="#ece7db"/>
<rect x="810.3" y="606.4" width="9.2" height="3.4" fill="#ece7db"/>
<rect x="822.5" y="607.1" width="4.7" height="3.0" fill="#ece7db"/>
<rect x="830.5" y="606.6" width="7.5" height="2.9" fill="#ece7db"/>
<rect x="841.6" y="605.9" width="4.8" height="3.8" fill="#ece7db"/>
<rect x="849.1" y="606.5" width="6.1" height="3.3" fill="#ece7db"/>
<rect x="859.0" y="606.3" width="6.3" height="3.6" fill="#ece7db"/>
<rect x="865.0" y="575.0" width="24.0" height="5.5" fill="#262321"/>
<rect x="868.0" y="576.6" width="18.0" height="2.0" fill="#ece7db"/>
<rect x="787.0" y="614.6" width="20.0" height="11.4" fill="#ece7db"/>
<rect x="787.0" y="629.0" width="20.0" height="11.5" fill="#ece7db"/>
<rect x="809.6" y="614.6" width="31.2" height="11.4" fill="#ece7db"/>
<rect x="809.6" y="629.0" width="31.2" height="11.5" fill="#ece7db"/>
<rect x="843.2" y="614.6" width="26.5" height="11.4" fill="#ece7db"/>
<rect x="843.2" y="629.0" width="26.5" height="11.5" fill="#ece7db"/>
<rect x="793.0" y="645.9" width="11.2" height="3.9" fill="#ece7db"/>
<rect x="806.7" y="645.9" width="9.3" height="3.8" fill="#ece7db"/>
<rect x="820.3" y="646.1" width="11.0" height="2.8" fill="#ece7db"/>
<rect x="794.6" y="651.6" width="11.6" height="3.5" fill="#ece7db"/>
<rect x="808.6" y="652.2" width="5.7" height="3.0" fill="#ece7db"/>
<rect x="830.3" y="652.4" width="4.6" height="2.0" fill="#ece7db"/>
<rect x="794.2" y="657.4" width="6.5" height="3.2" fill="#ece7db"/>
<rect x="810.0" y="658.2" width="5.1" height="3.0" fill="#ece7db"/>
<rect x="832.1" y="658.0" width="6.9" height="2.7" fill="#ece7db"/>
<rect x="793.9" y="663.7" width="9.7" height="3.2" fill="#ece7db"/>
<rect x="807.2" y="664.3" width="8.2" height="2.7" fill="#ece7db"/>
<rect x="819.3" y="664.5" width="11.2" height="3.0" fill="#ece7db"/>
<rect x="832.4" y="664.5" width="6.6" height="2.5" fill="#ece7db"/>
<rect x="808.4" y="670.3" width="9.2" height="3.4" fill="#ece7db"/>
<rect x="821.0" y="670.5" width="9.7" height="3.5" fill="#ece7db"/>
<rect x="835.2" y="669.8" width="3.8" height="4.1" fill="#ece7db"/>
<rect x="793.5" y="676.1" width="4.7" height="3.6" fill="#ece7db"/>
<rect x="807.1" y="675.8" width="10.4" height="3.9" fill="#ece7db"/>
<rect x="819.4" y="676.3" width="5.2" height="3.5" fill="#ece7db"/>
<rect x="828.2" y="676.5" width="10.8" height="2.0" fill="#ece7db"/>
<rect x="839.0" y="646.5" width="27.0" height="16.0" fill="#ece7db"/>
<rect x="843.0" y="666.0" width="13.0" height="24.0" fill="#ece7db"/>
<rect x="858.0" y="668.0" width="10.0" height="16.0" fill="#262321"/>
<rect x="861.0" y="672.0" width="5.0" height="5.0" fill="#ece7db"/>
<rect x="840.5" y="664.0" width="29.2" height="2.4" fill="#262321"/>
<rect x="801.0" y="688.0" width="42.0" height="9.5" fill="#ece7db" stroke="#262321" stroke-width="2.52"/>
<rect x="846.0" y="693.0" width="43.0" height="7.0" fill="#ece7db" stroke="#262321" stroke-width="2.52"/>
<path d="M846.0,700.0 L852.0,694.5 L868.0,691.5 L882.0,694.5 L889.0,700.0" fill="none" stroke="#262321" stroke-width="2.86"/>
<rect x="843.0" y="701.0" width="46.0" height="12.0" fill="#ece7db" stroke="#262321" stroke-width="3.08"/>
<rect x="846.0" y="714.5" width="41.0" height="3.5" fill="#262321"/>
<rect x="889.5" y="686.0" width="3.5" height="38.0" fill="#262321"/>
<rect x="799.0" y="703.5" width="42.0" height="18.0" fill="#262321"/>
<rect x="805.0" y="707.0" width="7.0" height="3.0" fill="#ece7db"/>
<rect x="818.0" y="709.0" width="8.0" height="3.0" fill="#ece7db"/>
<rect x="829.0" y="706.0" width="7.0" height="3.0" fill="#ece7db"/>
<rect x="808.0" y="714.0" width="8.0" height="3.0" fill="#ece7db"/>
<rect x="824.0" y="715.5" width="10.0" height="3.0" fill="#ece7db"/>
<rect x="797.0" y="721.5" width="46.0" height="21.0" fill="#262321"/>
<rect x="805.5" y="723.5" width="8.0" height="17.5" fill="#ece7db"/>
<rect x="818.0" y="723.5" width="8.5" height="17.5" fill="#ece7db"/>
<rect x="830.5" y="723.5" width="10.5" height="17.5" fill="#ece7db"/>
<rect x="798.2" y="723.5" width="3.3" height="17.5" fill="#ece7db"/>
<rect x="845.0" y="721.0" width="39.0" height="27.5" fill="#ece7db" stroke="#262321" stroke-width="2.80"/>
<text x="868.6" y="745.6" font-family="Liberation Sans, sans-serif" font-weight="700" font-size="16.5" text-anchor="middle" fill="#262321" stroke="#262321" stroke-width="1.3">8</text>
<rect x="851.0" y="723.5" width="9.0" height="3.0" fill="#262321"/>
<rect x="798.8" y="742.6" width="39.4" height="66.0" fill="#262321"/>
<rect x="825.1" y="748.3" width="4.9" height="2.3" fill="#ece7db"/>
<rect x="806.7" y="752.9" width="4.2" height="2.3" fill="#ece7db"/>
<rect x="813.0" y="752.8" width="8.8" height="2.7" fill="#ece7db"/>
<rect x="825.5" y="752.5" width="5.9" height="2.7" fill="#ece7db"/>
<rect x="807.9" y="757.8" width="8.5" height="1.8" fill="#ece7db"/>
<rect x="831.0" y="757.9" width="4.9" height="2.6" fill="#ece7db"/>
<rect x="807.3" y="762.4" width="3.1" height="2.7" fill="#ece7db"/>
<rect x="813.4" y="762.3" width="5.1" height="2.9" fill="#ece7db"/>
<rect x="820.9" y="762.4" width="6.1" height="2.5" fill="#ece7db"/>
<rect x="830.3" y="762.7" width="5.3" height="1.8" fill="#ece7db"/>
<rect x="806.9" y="768.0" width="6.8" height="2.0" fill="#ece7db"/>
<rect x="827.1" y="767.4" width="8.4" height="2.9" fill="#ece7db"/>
<rect x="808.0" y="772.2" width="8.3" height="2.7" fill="#ece7db"/>
<rect x="825.9" y="772.4" width="7.7" height="2.5" fill="#ece7db"/>
<rect x="817.6" y="777.7" width="3.7" height="1.9" fill="#ece7db"/>
<rect x="825.4" y="777.0" width="4.1" height="2.0" fill="#ece7db"/>
<rect x="833.1" y="777.0" width="2.9" height="2.2" fill="#ece7db"/>
<rect x="825.5" y="782.3" width="7.6" height="2.3" fill="#ece7db"/>
<rect x="806.8" y="787.5" width="3.1" height="1.5" fill="#ece7db"/>
<rect x="813.2" y="786.9" width="7.4" height="2.1" fill="#ece7db"/>
<rect x="806.2" y="792.6" width="6.6" height="2.1" fill="#ece7db"/>
<rect x="828.4" y="792.5" width="7.6" height="2.3" fill="#ece7db"/>
<rect x="807.3" y="797.2" width="7.6" height="1.5" fill="#ece7db"/>
<rect x="817.9" y="796.9" width="5.8" height="2.5" fill="#ece7db"/>
<rect x="806.0" y="801.9" width="7.0" height="2.0" fill="#ece7db"/>
<rect x="818.0" y="802.2" width="6.9" height="2.5" fill="#ece7db"/>
<path d="M869.5,663.0 L889.0,681.0 L890.6,719.0 L893.0,724.0 L880.5,760.0" fill="none" stroke="#262321" stroke-width="4.16"/>
<path d="M886.0,722.0 L875.0,757.0" fill="none" stroke="#262321" stroke-width="2.08"/>
<path d="M838.0,756.0 L848.0,764.0 L855.0,776.5" fill="none" stroke="#262321" stroke-width="3.38"/>
<path d="M838.5,768.0 L852.0,777.0" fill="#262321" stroke="#262321" stroke-width="2.86"/>
<rect x="947.1" y="568.8" width="85.9" height="116.2" fill="#262321"/>
<rect x="1013.8" y="579.1" width="10.0" height="3.4" fill="#ece7db"/>
<rect x="1002.8" y="579.2" width="8.3" height="3.0" fill="#ece7db"/>
<rect x="992.6" y="579.8" width="6.9" height="3.3" fill="#ece7db"/>
<rect x="982.6" y="579.8" width="6.1" height="2.9" fill="#ece7db"/>
<rect x="970.5" y="579.9" width="10.1" height="2.3" fill="#ece7db"/>
<rect x="951.6" y="579.6" width="10.5" height="3.0" fill="#ece7db"/>
<rect x="1015.8" y="584.9" width="6.7" height="3.7" fill="#ece7db"/>
<rect x="1003.8" y="584.5" width="10.2" height="3.1" fill="#ece7db"/>
<rect x="992.6" y="584.9" width="7.9" height="2.6" fill="#ece7db"/>
<rect x="980.0" y="584.7" width="9.3" height="3.7" fill="#ece7db"/>
<rect x="967.6" y="584.5" width="8.9" height="3.0" fill="#ece7db"/>
<rect x="956.1" y="584.5" width="9.8" height="4.0" fill="#ece7db"/>
<rect x="949.3" y="585.1" width="3.7" height="2.9" fill="#ece7db"/>
<rect x="1013.7" y="590.3" width="10.2" height="3.6" fill="#ece7db"/>
<rect x="1004.0" y="590.2" width="7.7" height="3.5" fill="#ece7db"/>
<rect x="995.1" y="590.1" width="7.0" height="2.8" fill="#ece7db"/>
<rect x="982.2" y="590.4" width="8.9" height="2.5" fill="#ece7db"/>
<rect x="969.7" y="590.2" width="10.6" height="3.2" fill="#ece7db"/>
<rect x="958.7" y="590.6" width="8.1" height="3.2" fill="#ece7db"/>
<rect x="949.3" y="590.3" width="6.8" height="3.0" fill="#ece7db"/>
<rect x="1016.2" y="596.0" width="5.4" height="3.4" fill="#ece7db"/>
<rect x="1006.2" y="596.1" width="6.7" height="3.3" fill="#ece7db"/>
<rect x="977.0" y="595.2" width="12.4" height="4.1" fill="#ece7db"/>
<rect x="962.6" y="595.5" width="11.2" height="3.5" fill="#ece7db"/>
<rect x="954.0" y="596.2" width="7.0" height="2.9" fill="#ece7db"/>
<rect x="949.3" y="596.0" width="2.2" height="3.5" fill="#ece7db"/>
<rect x="1010.3" y="600.8" width="11.2" height="3.1" fill="#ece7db"/>
<rect x="1002.8" y="601.3" width="5.5" height="2.8" fill="#ece7db"/>
<rect x="989.4" y="600.8" width="11.6" height="3.8" fill="#ece7db"/>
<rect x="977.2" y="601.4" width="8.8" height="3.4" fill="#ece7db"/>
<rect x="961.0" y="601.7" width="12.5" height="2.0" fill="#ece7db"/>
<rect x="949.7" y="601.1" width="8.9" height="3.6" fill="#ece7db"/>
<rect x="1011.6" y="605.9" width="10.1" height="3.9" fill="#ece7db"/>
<rect x="993.0" y="606.8" width="7.6" height="3.0" fill="#ece7db"/>
<rect x="984.5" y="606.7" width="6.2" height="2.3" fill="#ece7db"/>
<rect x="972.3" y="605.9" width="10.5" height="3.6" fill="#ece7db"/>
<rect x="959.8" y="606.1" width="8.6" height="3.5" fill="#ece7db"/>
<rect x="951.3" y="606.6" width="6.5" height="3.4" fill="#ece7db"/>
<rect x="927.8" y="575.0" width="24.0" height="5.5" fill="#262321"/>
<rect x="930.8" y="576.6" width="18.0" height="2.0" fill="#ece7db"/>
<rect x="1009.8" y="614.6" width="20.0" height="11.4" fill="#ece7db"/>
<rect x="1009.8" y="629.0" width="20.0" height="11.5" fill="#ece7db"/>
<rect x="976.0" y="614.6" width="31.2" height="11.4" fill="#ece7db"/>
<rect x="976.0" y="629.0" width="31.2" height="11.5" fill="#ece7db"/>
<rect x="947.1" y="614.6" width="26.5" height="11.4" fill="#ece7db"/>
<rect x="947.1" y="629.0" width="26.5" height="11.5" fill="#ece7db"/>
<rect x="1002.4" y="646.2" width="11.3" height="3.6" fill="#ece7db"/>
<rect x="993.5" y="646.6" width="5.7" height="3.4" fill="#ece7db"/>
<rect x="977.8" y="645.7" width="2.1" height="2.8" fill="#ece7db"/>
<rect x="1017.2" y="651.8" width="5.7" height="3.0" fill="#ece7db"/>
<rect x="995.3" y="652.0" width="11.5" height="3.8" fill="#ece7db"/>
<rect x="988.4" y="651.5" width="4.3" height="4.4" fill="#ece7db"/>
<rect x="977.8" y="652.5" width="6.1" height="2.3" fill="#ece7db"/>
<rect x="1003.2" y="657.6" width="6.7" height="4.2" fill="#ece7db"/>
<rect x="995.1" y="657.6" width="5.9" height="4.1" fill="#ece7db"/>
<rect x="984.3" y="658.4" width="8.7" height="3.3" fill="#ece7db"/>
<rect x="977.8" y="658.3" width="2.2" height="2.7" fill="#ece7db"/>
<rect x="1004.0" y="664.5" width="6.7" height="2.2" fill="#ece7db"/>
<rect x="993.8" y="664.0" width="7.3" height="2.5" fill="#ece7db"/>
<rect x="1017.3" y="669.6" width="6.3" height="3.3" fill="#ece7db"/>
<rect x="1003.1" y="670.5" width="11.6" height="2.7" fill="#ece7db"/>
<rect x="992.5" y="670.6" width="8.6" height="2.2" fill="#ece7db"/>
<rect x="977.8" y="670.0" width="10.9" height="2.5" fill="#ece7db"/>
<rect x="1013.9" y="676.4" width="10.2" height="3.4" fill="#ece7db"/>
<rect x="1001.2" y="676.5" width="11.0" height="3.3" fill="#ece7db"/>
<rect x="987.4" y="676.6" width="10.9" height="2.9" fill="#ece7db"/>
<rect x="977.8" y="675.7" width="5.6" height="4.0" fill="#ece7db"/>
<rect x="950.8" y="646.5" width="27.0" height="16.0" fill="#ece7db"/>
<rect x="960.8" y="666.0" width="13.0" height="24.0" fill="#ece7db"/>
<rect x="948.8" y="668.0" width="10.0" height="16.0" fill="#262321"/>
<rect x="950.8" y="672.0" width="5.0" height="5.0" fill="#ece7db"/>
<rect x="947.1" y="664.0" width="29.2" height="2.4" fill="#262321"/>
<rect x="973.8" y="688.0" width="42.0" height="9.5" fill="#ece7db" stroke="#262321" stroke-width="2.52"/>
<rect x="927.8" y="693.0" width="43.0" height="7.0" fill="#ece7db" stroke="#262321" stroke-width="2.52"/>
<path d="M970.8,700.0 L964.8,694.5 L948.8,691.5 L934.8,694.5 L927.8,700.0" fill="none" stroke="#262321" stroke-width="2.86"/>
<rect x="927.8" y="701.0" width="46.0" height="12.0" fill="#ece7db" stroke="#262321" stroke-width="3.08"/>
<rect x="929.8" y="714.5" width="41.0" height="3.5" fill="#262321"/>
<rect x="923.8" y="686.0" width="3.5" height="38.0" fill="#262321"/>
<rect x="975.8" y="703.5" width="42.0" height="18.0" fill="#262321"/>
<rect x="1004.8" y="707.0" width="7.0" height="3.0" fill="#ece7db"/>
<rect x="990.8" y="709.0" width="8.0" height="3.0" fill="#ece7db"/>
<rect x="980.8" y="706.0" width="7.0" height="3.0" fill="#ece7db"/>
<rect x="1000.8" y="714.0" width="8.0" height="3.0" fill="#ece7db"/>
<rect x="982.8" y="715.5" width="10.0" height="3.0" fill="#ece7db"/>
<rect x="973.8" y="721.5" width="46.0" height="21.0" fill="#262321"/>
<rect x="1003.3" y="723.5" width="8.0" height="17.5" fill="#ece7db"/>
<rect x="990.3" y="723.5" width="8.5" height="17.5" fill="#ece7db"/>
<rect x="975.8" y="723.5" width="10.5" height="17.5" fill="#ece7db"/>
<rect x="1015.3" y="723.5" width="3.3" height="17.5" fill="#ece7db"/>
<rect x="932.8" y="721.0" width="39.0" height="27.5" fill="#ece7db" stroke="#262321" stroke-width="2.80"/>
<text x="948.2" y="745.6" font-family="Liberation Sans, sans-serif" font-weight="700" font-size="16.5" text-anchor="middle" fill="#262321" stroke="#262321" stroke-width="1.3">8</text>
<rect x="956.8" y="723.5" width="9.0" height="3.0" fill="#262321"/>
<rect x="978.6" y="742.6" width="39.4" height="66.0" fill="#262321"/>
<rect x="1003.6" y="747.9" width="7.5" height="2.6" fill="#ece7db"/>
<rect x="993.3" y="747.9" width="7.1" height="2.2" fill="#ece7db"/>
<rect x="985.4" y="747.8" width="4.1" height="2.6" fill="#ece7db"/>
<rect x="980.8" y="748.4" width="2.0" height="1.3" fill="#ece7db"/>
<rect x="1001.4" y="752.7" width="8.0" height="3.0" fill="#ece7db"/>
<rect x="991.5" y="752.5" width="7.2" height="2.5" fill="#ece7db"/>
<rect x="980.8" y="753.2" width="7.7" height="1.3" fill="#ece7db"/>
<rect x="1001.4" y="757.5" width="8.6" height="3.0" fill="#ece7db"/>
<rect x="994.3" y="757.7" width="3.0" height="2.3" fill="#ece7db"/>
<rect x="982.6" y="758.3" width="8.0" height="1.6" fill="#ece7db"/>
<rect x="1001.4" y="762.2" width="8.4" height="2.5" fill="#ece7db"/>
<rect x="990.4" y="762.7" width="8.4" height="2.4" fill="#ece7db"/>
<rect x="984.7" y="762.5" width="3.5" height="1.9" fill="#ece7db"/>
<rect x="1002.9" y="767.9" width="6.7" height="2.5" fill="#ece7db"/>
<rect x="993.5" y="767.2" width="7.1" height="2.4" fill="#ece7db"/>
<rect x="982.9" y="768.0" width="5.7" height="1.7" fill="#ece7db"/>
<rect x="1007.2" y="772.9" width="4.4" height="2.4" fill="#ece7db"/>
<rect x="997.4" y="772.6" width="7.0" height="1.6" fill="#ece7db"/>
<rect x="1002.6" y="777.6" width="8.0" height="1.8" fill="#ece7db"/>
<rect x="992.7" y="776.9" width="7.3" height="2.4" fill="#ece7db"/>
<rect x="985.3" y="777.6" width="4.1" height="1.9" fill="#ece7db"/>
<rect x="1006.4" y="782.8" width="3.3" height="1.4" fill="#ece7db"/>
<rect x="998.2" y="782.2" width="4.1" height="1.9" fill="#ece7db"/>
<rect x="990.5" y="782.2" width="5.0" height="2.3" fill="#ece7db"/>
<rect x="1002.8" y="787.2" width="7.9" height="2.0" fill="#ece7db"/>
<rect x="982.8" y="787.4" width="8.5" height="2.0" fill="#ece7db"/>
<rect x="1006.3" y="792.2" width="5.3" height="2.4" fill="#ece7db"/>
<rect x="996.7" y="791.8" width="4.8" height="3.0" fill="#ece7db"/>
<rect x="1002.4" y="797.3" width="7.7" height="1.5" fill="#ece7db"/>
<rect x="989.6" y="796.8" width="8.1" height="2.0" fill="#ece7db"/>
<rect x="981.9" y="796.7" width="4.3" height="2.0" fill="#ece7db"/>
<rect x="1002.9" y="802.2" width="6.6" height="2.0" fill="#ece7db"/>
<rect x="995.6" y="802.1" width="3.3" height="2.1" fill="#ece7db"/>
<rect x="984.9" y="802.0" width="7.9" height="2.7" fill="#ece7db"/>
<path d="M947.3,663.0 L927.8,681.0 L926.2,719.0 L923.8,724.0 L936.3,760.0" fill="none" stroke="#262321" stroke-width="4.16"/>
<path d="M930.8,722.0 L941.8,757.0" fill="none" stroke="#262321" stroke-width="2.08"/>
<path d="M978.8,756.0 L968.8,764.0 L961.8,776.5" fill="none" stroke="#262321" stroke-width="3.38"/>
<path d="M978.3,768.0 L964.8,777.0" fill="#262321" stroke="#262321" stroke-width="2.86"/>
<rect x="869.7" y="582.3" width="77.4" height="3.7" fill="#262321"/>
<rect x="869.7" y="603.1" width="77.4" height="3.4" fill="#262321"/>
<rect x="869.7" y="612.9" width="77.4" height="3.6" fill="#262321"/>
<rect x="869.7" y="626.0" width="77.4" height="3.6" fill="#262321"/>
<rect x="869.7" y="640.3" width="77.4" height="3.7" fill="#262321"/>
<rect x="873.0" y="649.6" width="71.0" height="3.4" fill="#262321"/>
<rect x="873.0" y="654.8" width="71.0" height="2.2" fill="#262321"/>
<rect x="873.0" y="660.2" width="71.0" height="3.8" fill="#262321"/>
<path d="M873.0,651.0 L873.0,662.0" fill="none" stroke="#262321" stroke-width="2.60"/>
<path d="M944.0,651.0 L944.0,662.0" fill="none" stroke="#262321" stroke-width="2.60"/>
<path d="M871.0,589.5 L889.0,589.5 L897.0,592.5 L920.0,592.5 L928.0,589.5 L946.0,589.5" fill="none" stroke="#262321" stroke-width="2.86"/>
<path d="M871.0,601.0 L889.0,601.0 L897.0,597.5 L920.0,597.5 L928.0,601.0 L946.0,601.0" fill="none" stroke="#262321" stroke-width="2.86"/>
<path d="M903.5,592.0 L903.5,604.0" fill="none" stroke="#262321" stroke-width="3.12"/>
<path d="M913.5,592.0 L913.5,604.0" fill="none" stroke="#262321" stroke-width="3.12"/>
<rect x="889.0" y="632.5" width="14.0" height="2.7" fill="#262321"/>
<rect x="913.0" y="632.5" width="15.0" height="2.7" fill="#262321"/>
<rect x="892.0" y="637.2" width="33.0" height="2.4" fill="#262321"/>
<rect x="858.0" y="634.0" width="17.0" height="2.6" fill="#262321"/>
<rect x="941.0" y="634.0" width="18.0" height="2.6" fill="#262321"/>
<path d="M838.2,749.5 L978.6,749.5" fill="none" stroke="#262321" stroke-width="2.34"/>
<path d="M838.2,753.0 L978.6,753.0" fill="none" stroke="#262321" stroke-width="2.86"/>
<path d="M893.0,749.0 L897.5,743.8 L919.5,743.8 L924.0,749.0" fill="none" stroke="#262321" stroke-width="3.38"/>
<path d="M855.0,776.5 L962.0,776.5" fill="none" stroke="#262321" stroke-width="3.12"/></svg>
<svg width="1233" height="872" style="filter:blur(0.6px)"><ellipse cx="352" cy="57.5" rx="5.2" ry="1.7" transform="rotate(-12 352 57.5)" fill="#5e5138"/><circle cx="399.5" cy="288" r="1.3" fill="#6b655c"/><ellipse cx="707.5" cy="9.5" rx="1.6" ry="1" fill="#8a8378"/></svg>
<div style="position:absolute;left:740px;top:0;width:2px;height:869px;background:#fbf7f1;opacity:.92"></div>
<div id="title" style="left:532.5px;top:11.6px;letter-spacing:1.2px;word-spacing:2.5px;transform:scaleX(1.13)">MT 55</div>
<div id="txt">
<div class="t b" style="left:58.0px;top:118.1px;letter-spacing:1.00px;transform:scaleX(1.023)">ROLE:</div>
<div class="t" style="left:159.4px;top:118.1px;letter-spacing:0.35px;transform:scaleX(1.034)">Armoured treadway bridgelayer</div>
<div class="t b" style="left:57.9px;top:146.8px;letter-spacing:1.00px;transform:scaleX(1.079)">CREW:</div>
<div class="t" style="left:170.2px;top:146.8px;letter-spacing:0.00px;transform:scaleX(1.250)">2</div>
<div class="t b" style="left:59.0px;top:176.0px;letter-spacing:1.00px;transform:scaleX(1.056)">SPEED:</div>
<div class="t" style="left:179.9px;top:176.0px;letter-spacing:0.35px;transform:scaleX(1.057)">50kph</div>
<div class="t b" style="left:57.9px;top:205.7px;letter-spacing:1.00px;transform:scaleX(1.072)">BRIDGE LENGTH:</div>
<div class="t" style="left:322.5px;top:205.7px;letter-spacing:0.35px;transform:scaleX(1.105)">18m</div>
<div class="t b" style="left:57.9px;top:234.9px;letter-spacing:1.00px;transform:scaleX(1.076)">LOAD CLASS:</div>
<div class="t" style="left:269.5px;top:234.9px;letter-spacing:1.17px;transform:scaleX(1.200)">50</div>
<div class="t b" style="left:57.9px;top:265.3px;letter-spacing:1.00px;transform:scaleX(1.090)">LAUNCH TIME:</div>
<div class="t" style="left:284.6px;top:265.3px;letter-spacing:0.35px;transform:scaleX(1.080)">3mins</div>
<div class="t b" style="left:55.8px;top:385.5px;letter-spacing:1.00px;transform:scaleX(1.059)">VULNERABILITIES:</div>
<div class="t" style="left:56.1px;top:414.2px;letter-spacing:0.60px;transform:scaleX(1.080)">1.</div>
<div class="t" style="left:104.4px;top:414.2px;letter-spacing:0.35px;transform:scaleX(1.030)">External fuel storage</div>
<div class="t" style="left:54.9px;top:444.3px;letter-spacing:0.60px;transform:scaleX(1.080)">2.</div>
<div class="t" style="left:104.5px;top:444.3px;letter-spacing:0.35px;transform:scaleX(1.012)">Bridge is scissors type, making</div>
<div class="t" style="left:72.4px;top:473.8px;letter-spacing:0.35px;transform:scaleX(1.008)">laying operation easily visible.</div>
<div class="t" style="left:56.0px;top:504.5px;letter-spacing:0.60px;transform:scaleX(1.080)">3.</div>
<div class="t" style="left:104.4px;top:504.5px;letter-spacing:0.35px;transform:scaleX(1.033)">Bridge is laid by two hydraulic</div>
<div class="t" style="left:71.7px;top:533.2px;letter-spacing:0.35px;transform:scaleX(1.065)">rams behind the wide arm at the</div>
<div class="t" style="left:74.0px;top:563.3px;letter-spacing:0.35px;transform:scaleX(1.038)">front of the chassis. If these are</div>
<div class="t" style="left:73.0px;top:593.4px;letter-spacing:0.35px;transform:scaleX(1.034)">damaged the equipment is useless.</div>
<div class="t b" style="left:63.3px;top:675.3px;letter-spacing:1.00px;transform:scaleX(1.037)">NOTE:</div>
<div class="t" style="left:169.0px;top:675.3px;letter-spacing:0.35px;transform:scaleX(1.042)">There are several other WP</div>
<div class="t" style="left:78.4px;top:703.8px;letter-spacing:0.35px;transform:scaleX(1.038)">bridgelayers based on the T 55</div>
<div class="t" style="left:79.5px;top:734.1px;letter-spacing:0.35px;transform:scaleX(1.032)">chassis but with different bridges</div>
<div class="t" style="left:42.9px;top:821.3px;letter-spacing:1.00px;transform:scaleX(1.052)">52</div>
</div>
</body></html>
